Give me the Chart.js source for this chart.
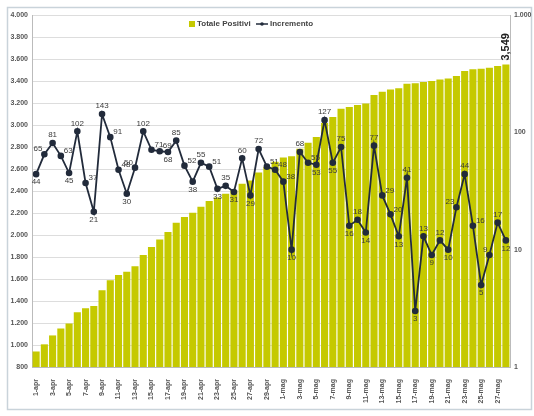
<!DOCTYPE html>
<html>
<head>
<meta charset="utf-8">
<script src="https://cdn.jsdelivr.net/npm/chart.js@4"></script>
<style>
    html, body { margin: 0; padding: 0; background: #ffffff; }
    #wrap { position: absolute; left: 0; top: 0; width: 534px; height: 416px; }
</style>
</head>
<body>
<div id="wrap"><canvas id="chart" width="534" height="416"></canvas></div>
<script>
// Dates (one bar per day, label every other day)
const categories = [
    '1-apr', '2-apr', '3-apr', '4-apr', '5-apr', '6-apr', '7-apr', '8-apr', '9-apr', '10-apr',
    '11-apr', '12-apr', '13-apr', '14-apr', '15-apr', '16-apr', '17-apr', '18-apr', '19-apr', '20-apr',
    '21-apr', '22-apr', '23-apr', '24-apr', '25-apr', '26-apr', '27-apr', '28-apr', '29-apr', '30-apr',
    '1-mag', '2-mag', '3-mag', '4-mag', '5-mag', '6-mag', '7-mag', '8-mag', '9-mag', '10-mag',
    '11-mag', '12-mag', '13-mag', '14-mag', '15-mag', '16-mag', '17-mag', '18-mag', '19-mag', '20-mag',
    '21-mag', '22-mag', '23-mag', '24-mag', '25-mag', '26-mag', '27-mag', '28-mag'
];

// Totale Positivi (left axis)
const totalePositivi = [
    941, 1006, 1087, 1150, 1195, 1297, 1334, 1355, 1498, 1589,
    1637, 1667, 1717, 1819, 1890, 1959, 2027, 2112, 2164, 2202,
    2257, 2308, 2341, 2376, 2407, 2467, 2496, 2568, 2619, 2667,
    2705, 2715, 2783, 2838, 2891, 3018, 3073, 3148, 3164, 3182,
    3196, 3273, 3302, 3322, 3335, 3376, 3379, 3392, 3401, 3413,
    3423, 3446, 3490, 3506, 3511, 3520, 3537, 3549
];

// Incremento giornaliero (right axis, log)
const incremento = [
    44, 65, 81, 63, 45, 102, 37, 21, 143, 91,
    48, 30, 50, 102, 71, 69, 68, 85, 52, 38,
    55, 51, 33, 35, 31, 60, 29, 72, 51, 48,
    38, 10, 68, 55, 53, 127, 55, 75, 16, 18,
    14, 77, 29, 20, 13, 41, 3, 13, 9, 12,
    10, 23, 44, 16, 5, 9, 17, 12
];

const rightTicks = [1, 10, 100, 1000];

const BAR_COLOR = '#c5c900';
const LINE_COLOR = '#222b3b';
const TEXT_COLOR = '#555555';

function fmtIt(v) {
    return String(v).replace(/\B(?=(\d{3})+(?!\d))/g, '.');
}

// Outer frame
const framePlugin = {
    id: 'frame',
    beforeDraw(chart) {
        const ctx = chart.ctx;
        ctx.save();
        ctx.strokeStyle = '#c9d3da';
        ctx.lineWidth = 1.5;
        ctx.strokeRect(7.5, 7.5, 524, 402);
        ctx.restore();
    }
};

// Legend drawn inside the plot area
const legendPlugin = {
    id: 'innerLegend',
    afterDraw(chart) {
        const ctx = chart.ctx;
        ctx.save();
        ctx.font = 'bold 8px "Liberation Sans", Arial, sans-serif';
        ctx.textBaseline = 'middle';
        ctx.fillStyle = BAR_COLOR;
        ctx.fillRect(189, 21, 6, 6);
        ctx.fillStyle = '#444';
        ctx.fillText('Totale Positivi', 197, 24);
        ctx.strokeStyle = LINE_COLOR;
        ctx.lineWidth = 1.5;
        ctx.beginPath();
        ctx.moveTo(256, 24);
        ctx.lineTo(268, 24);
        ctx.stroke();
        ctx.fillStyle = LINE_COLOR;
        ctx.beginPath();
        ctx.arc(262, 24, 1.8, 0, Math.PI * 2);
        ctx.fill();
        ctx.fillStyle = '#444';
        ctx.fillText('Incremento', 270, 24);
        ctx.restore();
    }
};

// Value labels: line points plus the last bar
const valueLabels = {
    id: 'valueLabels',
    afterDatasetsDraw(chart) {
        const ctx = chart.ctx;
        ctx.save();

        const lineMeta = chart.getDatasetMeta(1);
        ctx.font = '8px "Liberation Sans", Arial, sans-serif';
        ctx.fillStyle = '#3a3a3a';
        lineMeta.data.forEach((pt, i) => {
            const v = incremento[i];
            const prev = i > 0 ? incremento[i - 1] : v;
            const next = i < incremento.length - 1 ? incremento[i + 1] : v;
            let x = pt.x, y = pt.y;
            if (v >= prev && v >= next) {
                ctx.textAlign = 'center';
                ctx.textBaseline = 'bottom';
                y -= 4;
            } else if (v <= prev && v <= next) {
                ctx.textAlign = 'center';
                ctx.textBaseline = 'top';
                y += 4;
            } else if (next > v) {
                ctx.textAlign = 'right';
                ctx.textBaseline = 'bottom';
                x -= 2; y -= 1;
            } else {
                ctx.textAlign = 'left';
                ctx.textBaseline = 'bottom';
                x += 3; y -= 1;
            }
            ctx.fillText(String(v), x, y);
        });

        // total on the last bar, vertical
        const barMeta = chart.getDatasetMeta(0);
        const last = barMeta.data[barMeta.data.length - 1];
        ctx.translate(last.x, last.y - 4);
        ctx.rotate(-Math.PI / 2);
        ctx.font = 'bold 11px "Liberation Sans", Arial, sans-serif';
        ctx.fillStyle = '#222';
        ctx.textAlign = 'left';
        ctx.textBaseline = 'middle';
        ctx.fillText(fmtIt(totalePositivi[totalePositivi.length - 1]).replace('.', ','), 0, 0);
        ctx.restore();
    }
};

const tickFont = { family: '"Liberation Sans", Arial, sans-serif', size: 7, weight: 'bold' };

new Chart(document.getElementById('chart'), {
    data: {
        labels: categories,
        datasets: [
            {
                type: 'bar',
                label: 'Totale Positivi',
                data: totalePositivi,
                backgroundColor: BAR_COLOR,
                barPercentage: 0.86,
                categoryPercentage: 1.0,
                yAxisID: 'y',
                order: 2
            },
            {
                type: 'line',
                label: 'Incremento',
                data: incremento,
                borderColor: LINE_COLOR,
                backgroundColor: LINE_COLOR,
                borderWidth: 1.8,
                pointRadius: 2.4,
                pointBackgroundColor: LINE_COLOR,
                tension: 0,
                yAxisID: 'y1',
                order: 1
            }
        ]
    },
    options: {
        responsive: false,
        animation: false,
        layout: { padding: { left: 8, top: 15, right: 0, bottom: 8 } },
        plugins: {
            legend: { display: false },
            tooltip: { enabled: false }
        },
        scales: {
            x: {
                grid: { display: false },
                border: { color: '#bbbbbb' },
                ticks: {
                    autoSkip: false,
                    minRotation: 90,
                    maxRotation: 90,
                    padding: 4,
                    color: TEXT_COLOR,
                    font: tickFont,
                    callback: function(val, idx) {
                        return idx % 2 === 0 ? categories[idx] : '';
                    }
                },
                afterFit: s => { s.height = 41; }
            },
            y: {
                position: 'left',
                min: 800,
                max: 4000,
                grid: { color: '#dddddd', drawTicks: false },
                border: { color: '#bbbbbb' },
                ticks: {
                    stepSize: 200,
                    padding: 4,
                    color: TEXT_COLOR,
                    font: tickFont,
                    callback: v => fmtIt(v)
                },
                afterFit: s => { s.width = 24; }
            },
            y1: {
                type: 'logarithmic',
                position: 'right',
                min: 1,
                max: 1000,
                grid: { display: false, drawTicks: false },
                border: { color: '#bbbbbb' },
                ticks: {
                    padding: 4,
                    color: TEXT_COLOR,
                    font: tickFont,
                    autoSkip: false,
                    callback: v => rightTicks.includes(v) ? fmtIt(v) : ''
                },
                afterFit: s => { s.width = 24; }
            }
        }
    },
    plugins: [framePlugin, legendPlugin, valueLabels]
});
</script>
</body>
</html>
